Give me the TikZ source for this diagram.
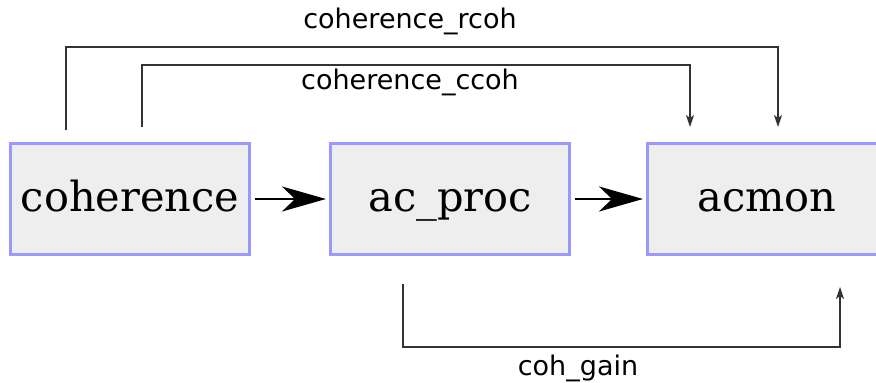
\documentclass[tikz,border=0pt]{standalone}
\usepackage{fontspec}
\setmainfont{DejaVu Serif}
\newfontfamily\labelfont{DejaVu Sans}
\usetikzlibrary{arrows.meta}
\definecolor{boxfill}{HTML}{EEEEEE}
\definecolor{boxdraw}{HTML}{9999FF}
\definecolor{wire}{HTML}{333333}
\tikzset{
  blockbox/.style={draw=boxdraw, fill=boxfill, line width=3pt, minimum width=239pt, minimum height=111pt, inner sep=0pt, text height=30pt, text depth=6pt, font=\fontsize{41.5}{41.5}\selectfont},
  mainarrow/.style={line width=2pt, shorten <=4pt, shorten >=3pt, -{Stealth[length=44pt,width=25pt,inset=13pt]}},
  wirearrow/.style={draw=wire, line width=1.4pt, -{Stealth[length=12pt,width=8pt,inset=3pt]}},
  wirelabel/.style={font=\labelfont\fontsize{27}{27}\selectfont, text=black}
}
\begin{document}
\begin{tikzpicture}[x=1pt,y=-1pt]
\useasboundingbox (0,0) rectangle (876,383);
\fill[white] (0,0) rectangle (876,383);
\node[blockbox] (coh) at (130,199) {coherence};
\node[blockbox] (acp) at (450,199) {ac\_proc};
\node[blockbox] (acm) at (767,199) {acmon};
\draw[mainarrow] (coh) -- (acp);
\draw[mainarrow] (acp) -- (acm);
\coordinate (r0) at (66,130);
\coordinate (r1) at (778,127);
\coordinate (c0) at (142,127);
\coordinate (c1) at (690,127);
\coordinate (g0) at (403,284);
\coordinate (g1) at (840,287);
\draw[wirearrow] (r0) -- (66,47) -- (778,47) -- (r1);
\draw[wirearrow] (c0) -- (142,65) -- (690,65) -- (c1);
\draw[wirearrow] (g0) -- (403,347) -- (840,347) -- (g1);
\node[wirelabel] (lr) at (410,21) {coherence\_rcoh};
\node[wirelabel] (lc) at (410,82) {coherence\_ccoh};
\node[wirelabel] (lg) at (578,368) {coh\_gain};
\end{tikzpicture}
\end{document}
